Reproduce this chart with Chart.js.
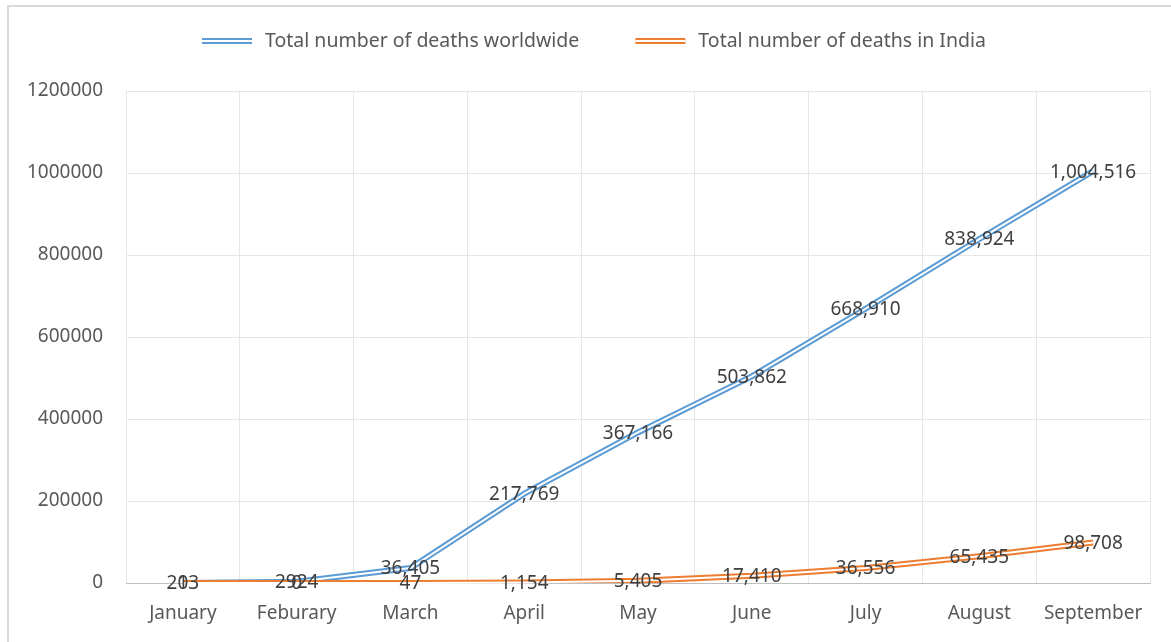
<!DOCTYPE html>
<html>
<head>
<meta charset="utf-8">
<script src="https://cdn.jsdelivr.net/npm/chart.js@4/dist/chart.umd.min.js"></script>
<style>
  html, body { margin: 0; padding: 0; background: #fff; }
  #wrap { position: relative; width: 1171px; height: 642px; }
</style>
</head>
<body>
<div id="wrap"><canvas id="deathsChart" width="1171" height="642"></canvas></div>
<script>
// ─── Data ───────────────────────────────────────────────
const months = ['January', 'Feburary', 'March', 'April', 'May', 'June', 'July', 'August', 'September'];
const worldDeaths = [213, 2924, 36405, 217769, 367166, 503862, 668910, 838924, 1004516];
const indiaDeaths = [0, 0, 47, 1154, 5405, 17410, 36556, 65435, 98708];
// labels as printed on the chart (February value has no thousands separator)
const worldLabels = ['213', '2924', '36,405', '217,769', '367,166', '503,862', '668,910', '838,924', '1,004,516'];
const indiaLabels = ['0', '0', '47', '1,154', '5,405', '17,410', '36,556', '65,435', '98,708'];
const seriesNames = ['Total number of deaths worldwide', 'Total number of deaths in India'];
const seriesColors = ['#5B9BD5', '#ED7D31'];
const yTicks = [0, 200000, 400000, 600000, 800000, 1000000, 1200000];

const FONT = "'Noto Sans', 'Open Sans', sans-serif";
const PLOT_LEFT = 126;
const PLOT_BOTTOM = 583;

// ─── Double (compound) line: white stripe through each series ───
const doubleLine = {
    id: 'doubleLine',
    afterDatasetDraw(chart, args) {
        const pts = args.meta.data;
        if (!pts.length) return;
        const ctx = chart.ctx;
        ctx.save();
        ctx.beginPath();
        pts.forEach((p, i) => i ? ctx.lineTo(p.x, p.y) : ctx.moveTo(p.x, p.y));
        ctx.strokeStyle = '#ffffff';
        ctx.lineWidth = 2;
        ctx.lineJoin = 'round';
        ctx.stroke();
        ctx.restore();
    }
};

// ─── Value labels centred on points ───
const valueLabels = {
    id: 'valueLabels',
    afterDatasetsDraw(chart) {
        const ctx = chart.ctx;
        ctx.save();
        ctx.font = `19px ${FONT}`;
        ctx.fillStyle = '#404040';
        ctx.textAlign = 'center';
        ctx.textBaseline = 'middle';
        chart.data.datasets.forEach((ds, di) => {
            chart.getDatasetMeta(di).data.forEach((p, i) => {
                ctx.fillText(ds.valueLabels[i], p.x, p.y + 1);
            });
        });
        ctx.restore();
    }
};

// ─── Legend with double-line swatches + outer frame ───
const topLegend = {
    id: 'topLegend',
    afterDraw(chart) {
        const ctx = chart.ctx;
        ctx.save();
        // outer frame (top + left edge)
        ctx.strokeStyle = '#d9d9d9';
        ctx.lineWidth = 2;
        ctx.beginPath();
        ctx.moveTo(8, 642);
        ctx.lineTo(8, 6);
        ctx.lineTo(1171, 6);
        ctx.stroke();

        ctx.font = `19.5px ${FONT}`;
        ctx.textBaseline = 'middle';
        const sw = 50, gapTxt = 13, gapItem = 56, y = 41;
        let x = 202;
        chart.data.datasets.forEach((ds) => {
            ctx.fillStyle = ds.borderColor;
            ctx.fillRect(x, y - 3, sw, 6);
            ctx.fillStyle = '#ffffff';
            ctx.fillRect(x, y - 1, sw, 2);
            ctx.fillStyle = '#595959';
            ctx.textAlign = 'left';
            ctx.fillText(ds.label, x + sw + gapTxt, y);
            x += sw + gapTxt + ctx.measureText(ds.label).width + gapItem;
        });
        ctx.restore();
    }
};

new Chart(document.getElementById('deathsChart'), {
    type: 'line',
    data: {
        labels: months,
        datasets: [
            { label: seriesNames[0], data: worldDeaths, valueLabels: worldLabels, borderColor: seriesColors[0], order: 1 },
            { label: seriesNames[1], data: indiaDeaths, valueLabels: indiaLabels, borderColor: seriesColors[1], order: 0 }
        ]
    },
    options: {
        responsive: false,
        animation: false,
        devicePixelRatio: 1,
        layout: { padding: { top: 91, right: 21, left: 0, bottom: 0 } },
        elements: {
            line: { borderWidth: 6, tension: 0, borderJoinStyle: 'round' },
            point: { radius: 0, hoverRadius: 0 }
        },
        scales: {
            x: {
                offset: true,
                grid: { offset: true, color: '#e6e6e6', drawTicks: false },
                border: { color: '#bfbfbf', width: 1 },
                ticks: { color: '#595959', font: { family: FONT, size: 19 }, padding: 19, maxRotation: 0 },
                afterFit(s) { s.height = 642 - PLOT_BOTTOM; }
            },
            y: {
                min: 0,
                max: 1200000,
                afterBuildTicks(s) { s.ticks = yTicks.map(v => ({ value: v })); },
                grid: { color: '#e6e6e6', drawTicks: false },
                border: { display: false },
                ticks: {
                    color: '#595959', font: { family: FONT, size: 19 }, padding: 23,
                    callback: v => String(v)
                },
                afterFit(s) { s.width = PLOT_LEFT; }
            }
        },
        plugins: {
            legend: { display: false },
            tooltip: { enabled: false }
        }
    },
    plugins: [doubleLine, valueLabels, topLegend]
});
</script>
</body>
</html>
